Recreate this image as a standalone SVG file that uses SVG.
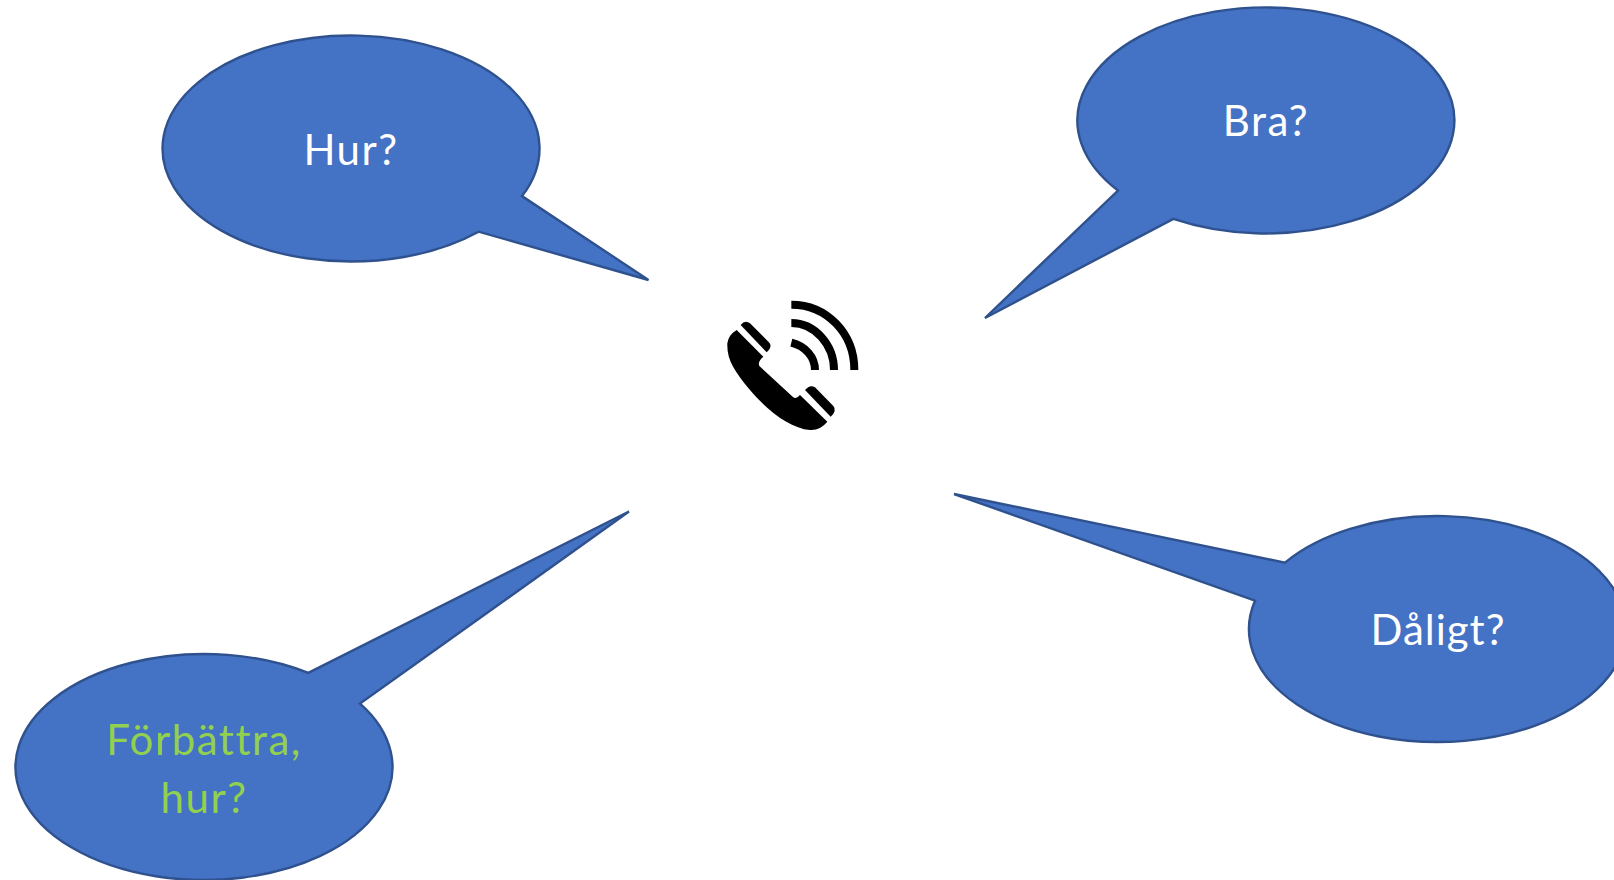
<svg xmlns="http://www.w3.org/2000/svg" width="1614" height="880" viewBox="0 0 1614 880">
<style>
.b{fill:#4472C4;stroke:#2F528F;stroke-width:2.4;stroke-linejoin:miter}
.t{font-family:"Lato","Liberation Sans",sans-serif;font-size:42px;letter-spacing:1.5px;text-anchor:middle;fill:#fff}
.g{fill:#92D050}
</style>
<rect width="1614" height="880" fill="#fff"/>
<g id="node-hur"><path class="b" d="M522,196.1A188.5,113 0 1 0 478.6,231.7L648.5,280Z"/><text class="t" x="351" y="165">Hur?</text></g>
<g id="node-bra"><path class="b" d="M1173.4,218.9A188.5,113 0 1 0 1118,190.5L985,318Z"/><text class="t" x="1266" y="136">Bra?</text></g>
<g id="node-daligt"><path class="b" d="M1285,562.6A188.5,113 0 1 1 1255,600.7L954,494Z"/><text class="t" x="1438" y="645" style="letter-spacing:1px">Dåligt?</text></g>
<g id="node-forbattra"><path class="b" d="M360,703.6A188.5,113 0 1 1 308.3,672.9L629,511.5Z"/><text class="t g" x="204" y="755">Förbättra,</text><text class="t g" x="204" y="813">hur?</text></g>
<g id="node-phone" transform="translate(700,280) scale(.33333)">
<path d="M110,150L190,230Q172,245 178,258L278,350Q288,360 300,345L382,425Q360,452 330,450C270,445 200,390 148,328C105,275 80,240 82,190Q85,165 110,150Z"/>
<path d="M122,135Q135,118 150,130L208,188Q218,200 200,217Z"/>
<path d="M315,330Q330,312 345,322L400,378Q412,392 392,410Z"/>
<g fill="none" stroke="#000" stroke-width="24">
<path d="M274,74C380,74 463,160 463,270"/>
<path d="M274,129C345,129 402,195 402,270"/>
<path d="M274,188C315,198 345,230 345,270"/>
</g>
</g>
</svg>
